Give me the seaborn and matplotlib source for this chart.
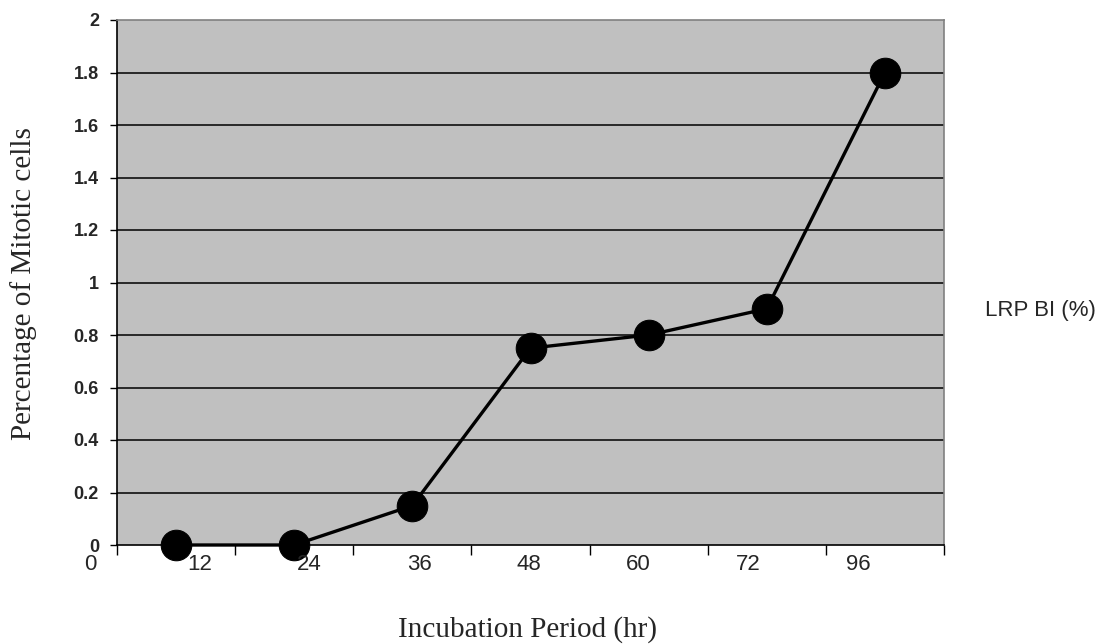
import numpy as np
import pandas as pd
import seaborn as sns
import matplotlib
matplotlib.use("Agg")
import matplotlib.pyplot as plt

# ---- data ----
x_labels = ["0", "12", "24", "36", "48", "60", "72", "96"]
values = [0.0, 0.0, 0.15, 0.75, 0.8, 0.9, 1.8]
y_ticks = [0, 0.2, 0.4, 0.6, 0.8, 1, 1.2, 1.4, 1.6, 1.8, 2]
series_name = "LRP BI (%)"
x_title = "Incubation Period (hr)"
y_title = "Percentage of Mitotic cells"

sns.set_style("white")
plt.rcParams['font.family'] = ['Liberation Sans', 'DejaVu Sans']

fig = plt.figure(figsize=(11.02, 6.44), dpi=100)
ax = fig.add_axes([117/1102, 1 - 545/644, (944-117)/1102, (545-20)/644])
ax.set_facecolor("#C0C0C0")

df = pd.DataFrame({"pos": np.arange(len(values)), "val": values})

for y in y_ticks[1:-1]:
    ax.axhline(y, color="black", linewidth=1.1, zorder=1)

sns.lineplot(data=df, x="pos", y="val", ax=ax, color="black", linewidth=2.4,
             marker="o", markersize=22, markerfacecolor="black",
             markeredgecolor="black", zorder=3, clip_on=False)

n = len(values)
ax.set_xlim(-0.5, n - 0.5)
ax.set_ylim(0, 2)
ax.set_xticks(np.arange(n + 1) - 0.5)
ax.set_xticklabels([])
ax.set_yticks(y_ticks)
ax.set_yticklabels([f"{v:g}" for v in y_ticks], fontsize=13, fontweight="bold")
ax.tick_params(axis="y", direction="out", length=5, width=1, color="black", pad=8, left=True)
ax.tick_params(axis="x", direction="out", length=7, width=1, color="black", bottom=True)

for side in ["left", "bottom"]:
    ax.spines[side].set_color("black")
    ax.spines[side].set_linewidth(1.2)
for side in ["top", "right"]:
    ax.spines[side].set_color("#808080")
    ax.spines[side].set_linewidth(1.2)

# category labels (spread evenly, as in the original text row)
lab_pos = np.linspace((90 - 117) / 827, (858 - 117) / 827, len(x_labels))
for xp, lab in zip(lab_pos, x_labels):
    ax.text(xp, -0.038, lab, transform=ax.transAxes, ha="center", va="center",
            fontsize=16)

ax.set_xlabel("")
ax.set_ylabel("")
fig.text(528/1102, 1 - 630/644, x_title, ha="center", va="center",
         fontsize=21, family=["Liberation Serif", "DejaVu Serif"])
fig.text(24/1102, 1 - 284/644, y_title, ha="center", va="center", rotation=90,
         fontsize=21, family=["Liberation Serif", "DejaVu Serif"])
fig.text(1040/1102, 1 - 310/644, series_name, ha="center", va="center", fontsize=16)

fig.savefig("out.png", dpi=100)
